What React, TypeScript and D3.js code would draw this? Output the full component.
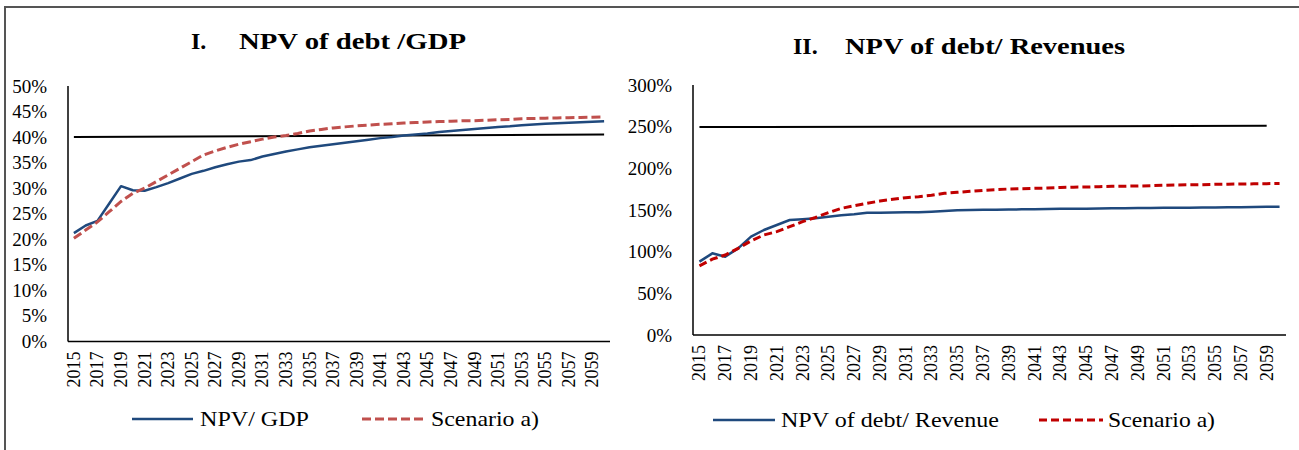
import React from "react";
import * as d3 from "d3";

const years: number[] = d3.range(2015, 2061);
const yearTicks: number[] = d3.range(2015, 2060, 2);

const npvGdp: number[] = [
  21.2, 22.7, 23.6, 27.0, 30.4, 29.6, 29.5, 30.2, 31.0, 31.9,
  32.8, 33.4, 34.1, 34.7, 35.2, 35.5, 36.2, 36.7, 37.2, 37.6,
  38.0, 38.3, 38.6, 38.9, 39.2, 39.5, 39.8, 40.0, 40.3, 40.5,
  40.7, 41.0, 41.2, 41.4, 41.6, 41.8, 42.0, 42.1, 42.3, 42.45,
  42.6, 42.7, 42.8, 42.9, 43.0, 43.1,
];
const scenarioGdp: number[] = [
  20.2, 21.8, 23.4, 25.4, 27.4, 29.0, 30.0, 31.3, 32.6, 33.9,
  35.2, 36.5, 37.3, 38.0, 38.6, 39.1, 39.6, 40.0, 40.3, 40.7,
  41.2, 41.5, 41.8, 42.0, 42.2, 42.35, 42.5, 42.6, 42.75, 42.85,
  42.95, 43.05, 43.1, 43.2, 43.2, 43.3, 43.4, 43.45, 43.6, 43.65,
  43.7, 43.75, 43.8, 43.85, 43.9, 43.95,
];
const thresholdGdpYears: number[] = [2015, 2060];
const thresholdGdp: number[] = [40.0, 40.5];

const npvRev: number[] = [
  88, 98, 94, 104, 118, 126, 132, 138, 139, 140,
  142, 143.6, 145, 146.8, 146.8, 147, 147.2, 147.4, 148, 148.8,
  149.6, 150, 150.2, 150.4, 150.6, 150.8, 151, 151.2, 151.4, 151.5,
  151.6, 151.8, 152, 152.1, 152.3, 152.4, 152.6, 152.7, 152.8, 152.9,
  153, 153.2, 153.4, 153.6, 153.8, 154,
];
const scenarioRev: number[] = [
  83, 91, 96, 104, 113, 120, 124, 130, 136, 141,
  146.8, 152, 155, 158, 160.8, 162.8, 164.8, 166, 167.6, 170,
  171.2, 172.4, 173.6, 174.4, 175.2, 175.6, 176, 176.4, 177, 177.4,
  177.6, 178, 178.4, 178.6, 178.8, 179.2, 179.6, 180, 180.2, 180.4,
  180.8, 181, 181.2, 181.4, 181.6, 181.8,
];
const thresholdRevYears: number[] = [2015, 2059];
const thresholdRev: number[] = [249.5, 251];

const gdpTicks: number[] = [0, 5, 10, 15, 20, 25, 30, 35, 40, 45, 50];
const revTicks: number[] = [0, 50, 100, 150, 200, 250, 300];

const FONT = "'Liberation Serif', 'Times New Roman', serif";
const BLUE = "#1F497D";

type PanelProps = {
  x0: number; x1: number; yBottom: number; yTop: number; yMax: number;
  ticks: number[]; main: number[]; scen: number[]; thrYears: number[]; thr: number[];
  scenColor: string; scenDash: string;
  titleNum: string; titleNumX: number; titleText: string; titleX: number; titleLen: number; titleY: number;
  leg: { l1: [number, number]; t1: number; t1Len: number; l2: [number, number]; t2: number; t2Len: number; mainLabel: string; y: number };
};

function Panel(p: PanelProps) {
  const x = d3.scaleBand<number>().domain(years).range([p.x0, p.x1]).padding(0);
  const cx = (yr: number) => (x(yr) as number) + x.bandwidth() / 2;
  const y = d3.scaleLinear().domain([0, p.yMax]).range([p.yBottom, p.yTop]);
  const line = d3.line<number>().x((_, i) => cx(years[i])).y((v) => y(v));
  const thrLine = d3.line<number>().x((_, i) => cx(p.thrYears[i])).y((v) => y(v));
  return (
    <g>
      <text x={p.titleNumX} y={p.titleY} fontFamily={FONT} fontWeight="bold" fontSize={24}>{p.titleNum}</text>
      <text x={p.titleX} y={p.titleY} fontFamily={FONT} fontWeight="bold" fontSize={24}
        textLength={p.titleLen} lengthAdjust="spacingAndGlyphs">{p.titleText}</text>
      {p.ticks.map((t) => (
        <text key={t} x={p.x0 - 21} y={y(t)} textAnchor="end" dominantBaseline="central"
          fontFamily={FONT} fontSize={19} fill="#000">{t + "%"}</text>
      ))}
      {yearTicks.map((yr) => (
        <text key={yr} transform={`translate(${cx(yr)},${p.yBottom + 10}) rotate(-90)`}
          textAnchor="end" dominantBaseline="central" fontFamily={FONT} fontSize={18}>{yr}</text>
      ))}
      <path d={thrLine(p.thr) as string} fill="none" stroke="#000" strokeWidth={2} />
      <path d={line(p.main) as string} fill="none" stroke={BLUE} strokeWidth={2.5} strokeLinejoin="round" />
      <path d={line(p.scen) as string} fill="none" stroke={p.scenColor} strokeWidth={3} strokeDasharray={p.scenDash} />
      <line x1={p.x0} x2={p.x0} y1={p.yTop} y2={p.yBottom} stroke="#000" strokeWidth={1.5} />
      <line x1={p.x0} x2={p.x1} y1={p.yBottom} y2={p.yBottom} stroke="#000" strokeWidth={1.5} />
      <line x1={p.leg.l1[0]} x2={p.leg.l1[1]} y1={p.leg.y} y2={p.leg.y} stroke={BLUE} strokeWidth={2.5} />
      <text x={p.leg.t1} y={p.leg.y + 7} fontFamily={FONT} fontSize={22} textLength={p.leg.t1Len}
        lengthAdjust="spacingAndGlyphs">{p.leg.mainLabel}</text>
      <line x1={p.leg.l2[0]} x2={p.leg.l2[1]} y1={p.leg.y} y2={p.leg.y} stroke={p.scenColor} strokeWidth={3}
        strokeDasharray={p.scenDash} />
      <text x={p.leg.t2} y={p.leg.y + 7} fontFamily={FONT} fontSize={22} textLength={p.leg.t2Len}
        lengthAdjust="spacingAndGlyphs">Scenario a)</text>
    </g>
  );
}

export default function App() {
  return (
    <svg width={1299} height={450} style={{ position: "absolute", left: 0, top: 0, background: "#fff" }}>
      <rect x={0} y={0} width={1299} height={450} fill="#fff" />
      <rect x={5} y={7} width={1310} height={460} fill="none" stroke="#555" strokeWidth={2} />
      <Panel
        x0={68} x1={610} yBottom={341.5} yTop={86} yMax={50} ticks={gdpTicks}
        main={npvGdp} scen={scenarioGdp} thrYears={thresholdGdpYears} thr={thresholdGdp}
        scenColor="#C0504D" scenDash="9,4"
        titleNum="I." titleNumX={191} titleText="NPV of debt /GDP" titleX={239} titleLen={227} titleY={48.5}
        leg={{ l1: [132, 193], t1: 200, t1Len: 109, l2: [362, 425], t2: 431, t2Len: 108, mainLabel: "NPV/ GDP", y: 419 }}
      />
      <Panel
        x0={693} x1={1286} yBottom={335} yTop={85} yMax={300} ticks={revTicks}
        main={npvRev} scen={scenarioRev} thrYears={thresholdRevYears} thr={thresholdRev}
        scenColor="#C00000" scenDash="8,4"
        titleNum="II." titleNumX={793} titleText="NPV of debt/ Revenues" titleX={845} titleLen={280} titleY={53.5}
        leg={{ l1: [713, 775], t1: 781, t1Len: 218, l2: [1039, 1103], t2: 1108, t2Len: 107, mainLabel: "NPV of debt/ Revenue", y: 420 }}
      />
    </svg>
  );
}
